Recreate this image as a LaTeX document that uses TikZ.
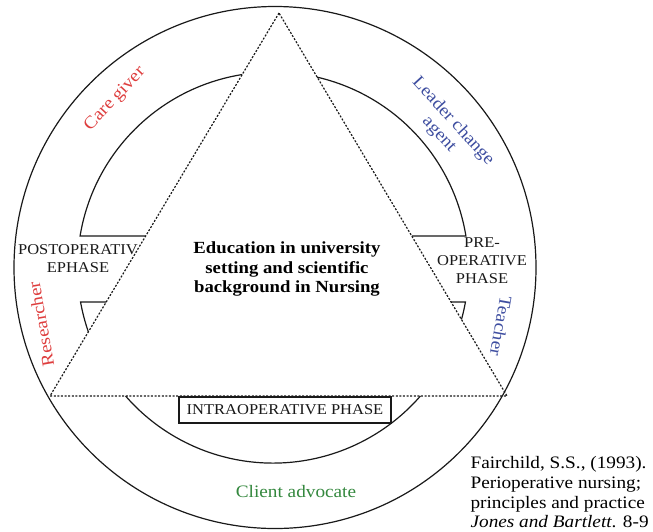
\documentclass[tikz,border=0pt]{standalone}
\usepackage{fontspec}
\setmainfont{Liberation Serif}[FakeStretch=1.1]
\definecolor{rolered}{RGB}{222,62,62}
\definecolor{roleblue}{RGB}{62,78,160}
\definecolor{rolegreen}{RGB}{52,136,62}

\begin{document}
\begin{tikzpicture}[x=1pt, y=-1pt, line width=1.2pt,
    ring/.style={draw=black!90},
    edu/.style={draw=black!90, dash pattern=on 2pt off 1.6pt},
    phase/.style={font=\fontsize{15}{18}\selectfont, align=center, text=black!90},
    role/.style={font=\fontsize{17.5}{19}\selectfont, align=center}]
  \useasboundingbox (0,0) rectangle (653,531);

  % outer ring and the four phase arcs
  \draw[ring] (275,267.5) circle[radius=261];
  \coordinate (c) at (273,267.6);
  \draw[ring] (c) ++(260.94:195.5) arc[start angle=260.94, end angle=189.3, radius=195.5] -- (145.7,236);
  \draw[ring] (c) ++(-76.93:195.5) arc[start angle=-76.93, end angle=-9.3, radius=195.5] -- (411.8,236);
  \draw[ring] (c) ++(160.8:195.5) arc[start angle=160.8, end angle=169.87, radius=195.5] -- (106.2,302);
  \draw[ring] (c) ++(15.39:195.5) arc[start angle=15.39, end angle=10.13, radius=195.5] -- (451,302);
  \draw[ring] (c) ++(41.06:195.5) arc[start angle=41.06, end angle=138.94, radius=195.5];

  % education triangle
  \coordinate (apex) at (279,13);
  \coordinate (bl) at (50,396);
  \coordinate (br) at (507,396);
  \draw[edu] (apex) -- (bl) -- (br) -- cycle;

  \node[font=\fontsize{17}{19.5}\selectfont\bfseries, align=center] (core) at (287,269)
    {Education in university\\setting and scientific\\background in Nursing};
  \node[phase] (postop) at (78,258.5) {POSTOPERATIV\\EPHASE};
  \node[phase] (preop) at (482,261) {PRE-\\OPERATIVE\\PHASE};
  \node[phase, draw=black!90, fill=white, minimum width=212pt, minimum height=26pt,
        inner sep=0pt] (intraop) at (285,410) {INTRAOPERATIVE PHASE};

  % nursing roles
  \node[role, text=rolered, rotate=47] (caregiver) at (115,99) {Care giver};
  \node[role, text=roleblue, rotate=-47.5] (leader) at (446,128) {Leader change\\agent};
  \node[role, text=rolered, rotate=100] (researcher) at (41,324) {Researcher};
  \node[role, text=roleblue, rotate=-100] (teacher) at (501,326) {Teacher};
  \node[role, text=rolegreen] (advocate) at (296,492) {Client advocate};

  \node[font=\fontsize{17.5}{19.7}\selectfont, align=left, anchor=north west, inner sep=0pt]
    (source) at (470,456)
    {Fairchild, S.S., (1993).\\Perioperative nursing;\\principles and practice\\
     \textit{Jones and Bartlett}. 8-9};
\end{tikzpicture}
\end{document}
